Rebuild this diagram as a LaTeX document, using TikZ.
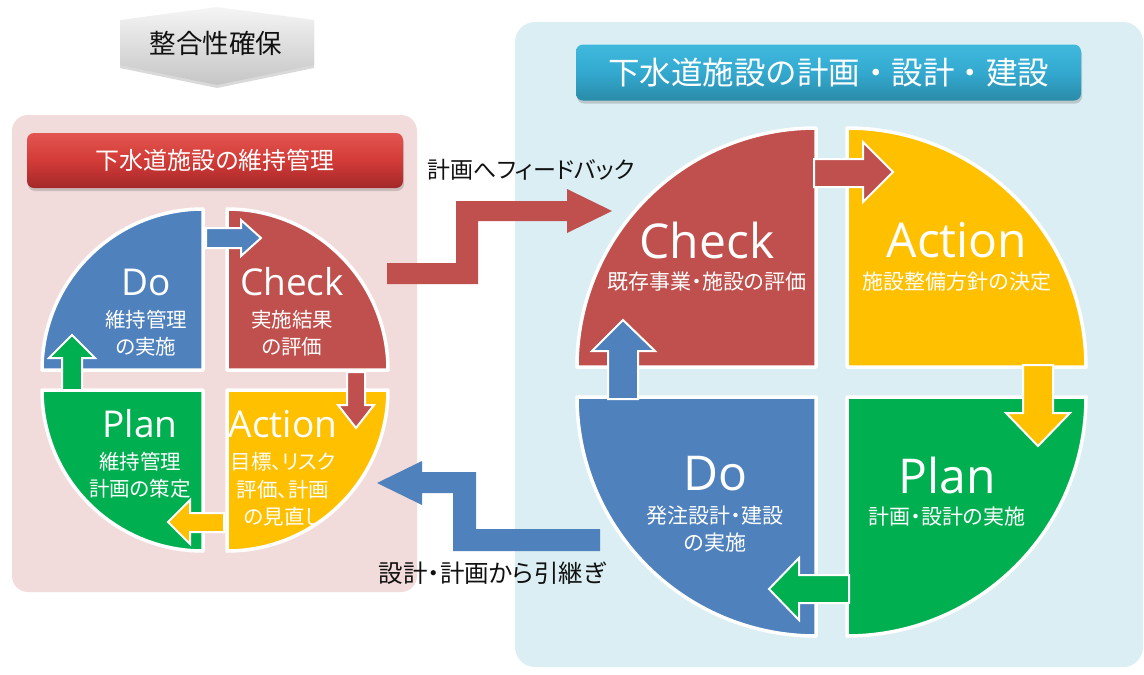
\documentclass[tikz,border=0pt]{standalone}
\usepackage{fontspec}
\newfontfamily\jp{Noto Sans CJK JP}
\newfontfamily\jpp[RawFeature=+palt]{Noto Sans CJK JP}
\newfontfamily\lat{Open Sans}
\usetikzlibrary{shadows}
\definecolor{qblue}{HTML}{4F81BD}
\definecolor{qred}{HTML}{C0504D}
\definecolor{qgreen}{HTML}{00B050}
\definecolor{qyellow}{HTML}{FFC000}
\definecolor{pinkbg}{HTML}{F2DCDB}
\definecolor{bluebg}{HTML}{DAEEF3}
\definecolor{redtop}{HTML}{E25550}
\definecolor{redmid}{HTML}{D33B37}
\definecolor{redbot}{HTML}{A3282A}
\definecolor{tealtop}{HTML}{40B9DD}
\definecolor{tealmid}{HTML}{33A9D0}
\definecolor{tealbot}{HTML}{2A8BA8}
\definecolor{labeltext}{HTML}{111111}
\tikzset{
  quad/.style={draw=white, line width=3.5pt, line join=round},
  barrow/.style={draw=white, line width=2pt, line join=miter},
  bigL/.style={text=white, inner sep=0pt, font=\lat\fontsize{37}{40}\selectfont},
  bigR/.style={text=white, inner sep=0pt, font=\lat\fontsize{48}{52}\selectfont},
  subL/.style={text=white, inner sep=0pt, font=\jpp\fontsize{20.5}{24}\selectfont},
  subR/.style={text=white, inner sep=0pt, font=\jpp\fontsize{21}{24}\selectfont},
  flabel/.style={text=labeltext, inner sep=0pt, font=\jpp\fontsize{23}{26}\selectfont},
  titlebar/.style={rounded corners=7pt, text=white, inner sep=0pt,
    drop shadow={opacity=0.35, shadow xshift=1pt, shadow yshift=-3pt}},
}
\begin{document}
\begin{tikzpicture}[x=1pt,y=1pt]
\useasboundingbox (0,0) rectangle (1144,-675);
\clip (0,0) rectangle (1144,-675);

% panels
\path[fill=pinkbg, rounded corners=16pt] (12,-115) rectangle (417,-592);
\path[fill=bluebg, rounded corners=20pt] (515,-22) rectangle (1143,-667);

% consistency chevron
\path[top color=gray!8, bottom color=gray!45,
  drop shadow={opacity=0.3, shadow xshift=0pt, shadow yshift=-3pt}]
  (120,-20) -- (217,-7) -- (314,-20) -- (314,-65) -- (217,-85) -- (120,-65) -- cycle;
\node[text=labeltext, inner sep=0pt, font=\jp\fontsize{26.5}{30}\selectfont] (seigo) at (216,-43) {整合性確保};

% title bars
\node[titlebar, top color=redtop, bottom color=redbot, middle color=redmid,
  minimum width=376pt, minimum height=55pt, font=\jpp\fontsize{24}{27}\selectfont]
  (ltitle) at (215,-160.5) {下水道施設の維持管理};
\node[titlebar, top color=tealtop, bottom color=tealbot, middle color=tealmid,
  minimum width=505pt, minimum height=56pt, font=\jp\fontsize{31.5}{35}\selectfont]
  (rtitle) at (828.5,-72.5) {下水道施設の計画・設計・建設};

% ---------- left circle (r = 161) ----------
\path[quad, fill=qblue]   (203,-370) -- (42,-370) arc[start angle=180, end angle=90, radius=161pt] -- cycle;
\path[quad, fill=qred]    (227,-370) -- (227,-209) arc[start angle=90, end angle=0, radius=161pt] -- cycle;
\path[quad, fill=qgreen]  (203,-390) -- (42,-390) arc[start angle=180, end angle=270, radius=161pt] -- cycle;
\path[quad, fill=qyellow] (227,-390) -- (388,-390) arc[start angle=0, end angle=-90, radius=161pt] -- cycle;

% inner arrows (left)
\path[barrow, fill=qblue]   (206,-228) -- (241,-228) -- (241,-220) -- (261,-238) -- (241,-256) -- (241,-248) -- (206,-248) -- cycle;
\path[barrow, fill=qred]    (347,-372) -- (365,-372) -- (365,-405) -- (374,-405) -- (356,-428) -- (338,-405) -- (347,-405) -- cycle;
\path[barrow, fill=qyellow] (224,-513) -- (190,-513) -- (190,-500) -- (168,-522) -- (190,-544) -- (190,-532) -- (224,-532) -- cycle;
\path[barrow, fill=qgreen]  (62,-390) -- (62,-358) -- (49,-358) -- (72,-335) -- (95,-358) -- (82,-358) -- (82,-390) -- cycle;

% left texts
\node[bigL] (ldo) at (146,-282) {Do};
\node[subL] (ldo1) at (146,-320) {維持管理};
\node[subL] (ldo2) at (146,-347) {の実施};
\node[bigL] (lcheck) at (292,-282) {Check};
\node[subL] (lcheck1) at (292,-320) {実施結果};
\node[subL] (lcheck2) at (292,-347) {の評価};
\node[bigL] (lplan) at (140,-424) {Plan};
\node[subL] (lplan1) at (140,-462) {維持管理};
\node[subL] (lplan2) at (140,-489) {計画の策定};
\node[bigL] (laction) at (283,-424) {Action};
\node[subL] (laction1) at (283,-462) {目標、リスク};
\node[subL] (laction2) at (283,-490) {評価、計画};
\node[subL] (laction3) at (283,-517) {の見直し};

% ---------- right circle (r = 239) ----------
\path[quad, fill=qred]    (816,-367) -- (577,-367) arc[start angle=180, end angle=90, radius=239pt] -- cycle;
\path[quad, fill=qyellow] (847,-367) -- (847,-128) arc[start angle=90, end angle=0, radius=239pt] -- cycle;
\path[quad, fill=qblue]   (816,-397) -- (577,-397) arc[start angle=180, end angle=270, radius=239pt] -- cycle;
\path[quad, fill=qgreen]  (847,-397) -- (1086,-397) arc[start angle=0, end angle=-90, radius=239pt] -- cycle;

% inner arrows (right)
\path[barrow, fill=qblue]   (608,-399) -- (608,-351) -- (592,-351) -- (623,-320) -- (655,-351) -- (638,-351) -- (638,-399) -- cycle;
\path[barrow, fill=qred]    (814,-159) -- (863,-159) -- (863,-142) -- (893,-172) -- (863,-202) -- (863,-187) -- (814,-187) -- cycle;
\path[barrow, fill=qyellow] (1023,-365) -- (1023,-413) -- (1006,-413) -- (1038,-446) -- (1070,-413) -- (1053,-413) -- (1053,-365) -- cycle;
\path[barrow, fill=qgreen]  (849,-575) -- (799,-575) -- (799,-558) -- (769,-589) -- (799,-620) -- (799,-603) -- (849,-603) -- cycle;

% right texts
\node[bigR] (rcheck) at (707,-240) {Check};
\node[subR] (rcheck1) at (707,-282) {既存事業・施設の評価};
\node[bigR] (raction) at (957,-240) {Action};
\node[subR] (raction1) at (957,-282) {施設整備方針の決定};
\node[bigR] (rdo) at (715,-474) {Do};
\node[subR] (rdo1) at (715,-516) {発注設計・建設};
\node[subR] (rdo2) at (715,-543) {の実施};
\node[bigR] (rplan) at (947,-475) {Plan};
\node[subR] (rplan1) at (947,-517) {計画・設計の実施};

% ---------- feedback arrows between panels ----------
\path[fill=qred] (387,-263) -- (456,-263) -- (456,-201) -- (567,-201) -- (567,-189) -- (612,-211)
  -- (567,-233) -- (567,-221) -- (478,-221) -- (478,-284) -- (387,-284) -- cycle;
\path[fill=qblue] (600,-529) -- (476,-529) -- (476,-472) -- (422,-472) -- (422,-461) -- (377,-483)
  -- (422,-505) -- (422,-493) -- (453,-493) -- (453,-551) -- (600,-551) -- cycle;

\node[flabel] (fb) at (531,-170) {計画へフィードバック};
\node[flabel, font=\jpp\fontsize{24.5}{28}\selectfont] (hk) at (492,-573) {設計・計画から引継ぎ};
\end{tikzpicture}
\end{document}
